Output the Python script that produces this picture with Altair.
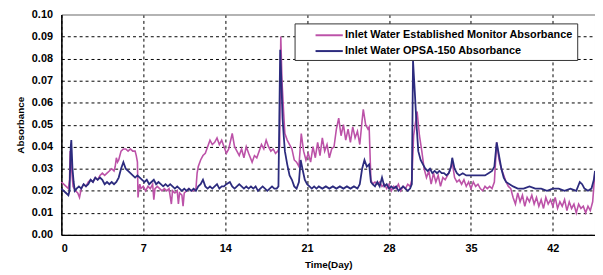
import altair as alt
import pandas as pd

SERIES = ["Inlet Water Established Monitor Absorbance", "Inlet Water OPSA-150 Absorbance"]
COLORS = ["#BC52A8", "#2C2B7E"]

est_day = [0.0, 0.2, 0.4, 0.6, 0.7, 0.75, 0.8, 0.9, 1.0, 1.2, 1.4, 1.55, 1.7, 1.9, 2.1, 2.3, 2.5, 2.7, 2.9, 3.1,
           3.3, 3.5, 3.7, 3.9, 4.1, 4.3, 4.5, 4.6, 4.7, 4.8, 4.9, 5.0, 5.1, 5.3, 5.5, 5.7, 5.9, 6.1, 6.3, 6.4,
           6.5, 6.55, 6.6, 6.7, 6.8, 7.0, 7.2, 7.4, 7.6, 7.8, 7.9, 8.0, 8.2, 8.4, 8.6, 8.8, 9.0, 9.2, 9.4, 9.5,
           9.7, 9.9, 10.0, 10.1, 10.3, 10.4, 10.5, 10.7, 10.9, 11.1, 11.3, 11.5, 11.6, 11.7, 11.9, 12.1, 12.3, 12.5, 12.7, 12.9,
           13.1, 13.3, 13.5, 13.7, 13.9, 14.1, 14.3, 14.6, 14.8, 15.0, 15.2, 15.4, 15.6, 15.8, 16.0, 16.3, 16.5, 16.7, 16.9, 17.1,
           17.3, 17.5, 17.7, 17.9, 18.1, 18.3, 18.5, 18.65, 18.75, 18.85, 19.0, 19.1, 19.3, 19.5, 19.7, 19.9, 20.1, 20.3, 20.5, 20.7,
           20.9, 21.1, 21.3, 21.5, 21.7, 21.9, 22.1, 22.3, 22.5, 22.7, 22.9, 23.1, 23.3, 23.5, 23.7, 23.9, 24.1, 24.3, 24.5, 24.7,
           24.9, 25.1, 25.3, 25.5, 25.7, 25.8, 26.0, 26.2, 26.3, 26.45, 26.6, 26.8, 27.0, 27.2, 27.4, 27.6, 27.8, 28.0, 28.2, 28.4,
           28.6, 28.8, 29.0, 29.2, 29.4, 29.6, 29.8, 29.95, 30.1, 30.4, 30.6, 30.8, 31.0, 31.2, 31.4, 31.6, 31.8, 32.0, 32.2, 32.4,
           32.6, 32.8, 33.0, 33.2, 33.4, 33.6, 33.8, 34.0, 34.2, 34.4, 34.6, 34.8, 35.0, 35.2, 35.4, 35.6, 35.8, 36.0, 36.2, 36.4,
           36.6, 36.8, 37.0, 37.2, 37.4, 37.6, 37.8, 38.0, 38.2, 38.4, 38.6, 38.8, 39.0, 39.2, 39.4, 39.6, 39.8, 40.0, 40.2, 40.4,
           40.6, 40.8, 41.0, 41.2, 41.4, 41.6, 41.8, 42.0, 42.2, 42.4, 42.6, 42.8, 43.0, 43.2, 43.4, 43.6, 43.8, 44.0, 44.2, 44.4,
           44.6, 44.8, 45.0, 45.2, 45.4, 45.6]
est_val = [0.024, 0.023, 0.022, 0.021, 0.025, 0.038, 0.036, 0.028, 0.022, 0.020, 0.019, 0.017, 0.021, 0.023, 0.022, 0.024, 0.025, 0.024, 0.026, 0.025,
           0.027, 0.028, 0.027, 0.028, 0.029, 0.030, 0.029, 0.031, 0.035, 0.033, 0.034, 0.036, 0.038, 0.039, 0.039, 0.038, 0.039, 0.038, 0.038, 0.036,
           0.033, 0.017, 0.020, 0.023, 0.021, 0.022, 0.020, 0.022, 0.021, 0.023, 0.016, 0.021, 0.022, 0.021, 0.020, 0.021, 0.020, 0.021, 0.014, 0.020,
           0.019, 0.020, 0.014, 0.019, 0.018, 0.013, 0.019, 0.020, 0.021, 0.020, 0.020, 0.021, 0.028, 0.031, 0.034, 0.036, 0.037, 0.040, 0.043, 0.041,
           0.042, 0.044, 0.041, 0.043, 0.040, 0.037, 0.039, 0.046, 0.040, 0.038, 0.036, 0.039, 0.035, 0.040, 0.037, 0.033, 0.036, 0.035, 0.038, 0.041,
           0.039, 0.043, 0.040, 0.038, 0.039, 0.037, 0.038, 0.040, 0.090, 0.070, 0.055, 0.046, 0.043, 0.041, 0.039, 0.034, 0.033, 0.031, 0.046, 0.038,
           0.034, 0.037, 0.033, 0.040, 0.035, 0.042, 0.036, 0.044, 0.038, 0.041, 0.035, 0.039, 0.040, 0.048, 0.053, 0.045, 0.050, 0.043, 0.048, 0.042,
           0.049, 0.044, 0.047, 0.041, 0.052, 0.057, 0.050, 0.048, 0.049, 0.025, 0.023, 0.024, 0.023, 0.024, 0.022, 0.023, 0.021, 0.023, 0.020, 0.022,
           0.021, 0.023, 0.020, 0.022, 0.021, 0.023, 0.022, 0.025, 0.045, 0.056, 0.045, 0.038, 0.030, 0.026, 0.029, 0.023, 0.028, 0.024, 0.027, 0.022,
           0.026, 0.025, 0.027, 0.029, 0.033, 0.026, 0.024, 0.025, 0.023, 0.025, 0.022, 0.024, 0.021, 0.024, 0.022, 0.023, 0.021, 0.020, 0.022, 0.021,
           0.022, 0.021, 0.024, 0.042, 0.034, 0.030, 0.027, 0.024, 0.022, 0.021, 0.017, 0.014, 0.019, 0.015, 0.018, 0.013, 0.017, 0.015, 0.018, 0.014,
           0.017, 0.013, 0.016, 0.012, 0.017, 0.014, 0.016, 0.013, 0.017, 0.012, 0.015, 0.013, 0.016, 0.011, 0.015, 0.012, 0.014, 0.010, 0.014, 0.012,
           0.013, 0.010, 0.013, 0.011, 0.015, 0.029]

opsa_day = [0.0, 0.2, 0.4, 0.6, 0.7, 0.8, 0.85, 0.95, 1.05, 1.15, 1.3, 1.5, 1.7, 1.9, 2.1, 2.3, 2.5, 2.7, 2.9, 3.1,
            3.3, 3.5, 3.7, 3.9, 4.1, 4.3, 4.5, 4.7, 4.9, 5.1, 5.3, 5.5, 5.7, 5.9, 6.1, 6.3, 6.5, 6.7, 6.9, 7.1,
            7.3, 7.5, 7.7, 7.9, 8.1, 8.3, 8.5, 8.7, 8.9, 9.1, 9.3, 9.5, 9.7, 9.9, 10.1, 10.3, 10.5, 10.7, 10.9, 11.1,
            11.3, 11.5, 11.7, 11.9, 12.1, 12.3, 12.5, 12.7, 12.9, 13.1, 13.3, 13.5, 13.7, 13.9, 14.1, 14.4, 14.6, 14.8, 15.0, 15.2,
            15.4, 15.6, 15.8, 16.0, 16.2, 16.4, 16.6, 16.8, 17.0, 17.2, 17.4, 17.6, 17.8, 18.0, 18.2, 18.4, 18.55, 18.7, 18.8, 18.9,
            19.0, 19.1, 19.3, 19.5, 19.7, 19.9, 20.1, 20.3, 20.45, 20.6, 20.8, 21.0, 21.2, 21.4, 21.6, 21.8, 22.0, 22.3, 22.6, 22.9,
            23.2, 23.5, 23.8, 24.1, 24.4, 24.7, 25.0, 25.3, 25.5, 25.7, 25.9, 26.1, 26.3, 26.45, 26.6, 26.8, 27.0, 27.2, 27.4, 27.6,
            27.8, 28.0, 28.2, 28.4, 28.6, 28.8, 29.0, 29.2, 29.4, 29.6, 29.8, 29.95, 30.05, 30.2, 30.35, 30.5, 30.7, 30.9, 31.1, 31.3,
            31.5, 31.7, 31.9, 32.1, 32.3, 32.5, 32.7, 32.9, 33.1, 33.3, 33.4, 33.6, 33.8, 34.0, 34.3, 34.6, 35.0, 35.4, 35.8, 36.2,
            36.5, 36.8, 37.0, 37.2, 37.4, 37.6, 37.8, 38.0, 38.3, 38.6, 39.0, 39.5, 40.0, 40.5, 41.0, 41.5, 42.0, 42.5, 43.0, 43.5,
            44.0, 44.3, 44.5, 44.7, 45.0, 45.3, 45.5, 45.6]
opsa_val = [0.021, 0.020, 0.019, 0.018, 0.020, 0.040, 0.043, 0.030, 0.024, 0.020, 0.021, 0.022, 0.021, 0.023, 0.022, 0.023, 0.025, 0.024, 0.026, 0.025,
            0.026, 0.025, 0.023, 0.024, 0.023, 0.024, 0.023, 0.024, 0.026, 0.030, 0.033, 0.030, 0.029, 0.028, 0.027, 0.026, 0.027, 0.026, 0.025, 0.024,
            0.025, 0.023, 0.024, 0.025, 0.023, 0.024, 0.023, 0.022, 0.023, 0.022, 0.023, 0.022, 0.021, 0.022, 0.021, 0.020, 0.021, 0.020, 0.021, 0.020,
            0.021, 0.020, 0.022, 0.023, 0.025, 0.022, 0.021, 0.022, 0.021, 0.022, 0.023, 0.021, 0.022, 0.022, 0.023, 0.024, 0.022, 0.021, 0.022, 0.023,
            0.022, 0.021, 0.022, 0.021, 0.022, 0.021, 0.022, 0.020, 0.021, 0.022, 0.021, 0.020, 0.021, 0.022, 0.021, 0.021, 0.022, 0.084, 0.070, 0.053,
            0.045, 0.038, 0.032, 0.027, 0.025, 0.022, 0.021, 0.024, 0.034, 0.030, 0.025, 0.023, 0.022, 0.021, 0.022, 0.021, 0.022, 0.021, 0.022, 0.021,
            0.022, 0.021, 0.022, 0.021, 0.022, 0.021, 0.022, 0.021, 0.023, 0.030, 0.034, 0.031, 0.032, 0.024, 0.023, 0.022, 0.024, 0.022, 0.026, 0.022,
            0.023, 0.021, 0.022, 0.021, 0.022, 0.020, 0.021, 0.022, 0.021, 0.020, 0.021, 0.023, 0.079, 0.065, 0.050, 0.038, 0.034, 0.032, 0.030, 0.029,
            0.030, 0.028, 0.029, 0.028, 0.029, 0.028, 0.028, 0.027, 0.028, 0.031, 0.035, 0.030, 0.028, 0.027, 0.028, 0.027, 0.027, 0.027, 0.027, 0.027,
            0.028, 0.029, 0.031, 0.042, 0.036, 0.030, 0.026, 0.024, 0.023, 0.022, 0.021, 0.021, 0.022, 0.021, 0.021, 0.020, 0.021, 0.021, 0.020, 0.021,
            0.020, 0.024, 0.023, 0.021, 0.020, 0.021, 0.025, 0.029]

x_ticks = [0, 7, 14, 21, 28, 35, 42]
y_ticks = [0.0, 0.01, 0.02, 0.03, 0.04, 0.05, 0.06, 0.07, 0.08, 0.09, 0.10]

df_est = pd.DataFrame({"day": est_day, "value": est_val, "series": SERIES[0]})
df_opsa = pd.DataFrame({"day": opsa_day, "value": opsa_val, "series": SERIES[1]})

FONT = "Liberation Sans"

x_enc = alt.X("day:Q", scale=alt.Scale(domain=[0, 45.6], nice=False, zero=False),
              axis=alt.Axis(values=x_ticks, title="Time(Day)", format="d"))
y_enc = alt.Y("value:Q", scale=alt.Scale(domain=[0, 0.1], nice=False),
              axis=alt.Axis(values=y_ticks, title="Absorbance", format=".2f",
                            gridDash=alt.condition("datum.value >= 0.0999", alt.value([]), alt.value([3, 3])),
                            gridColor=alt.condition("datum.value >= 0.0999", alt.value("#999999"), alt.value("#000000"))))
color_enc = alt.Color("series:N", scale=alt.Scale(domain=SERIES, range=COLORS),
                      legend=alt.Legend(title=None, orient="none", legendX=236, legendY=9,
                                        fillColor="white", strokeColor="#333333", padding=4,
                                        symbolType="M-2,0H2", symbolSize=190, symbolStrokeWidth=2,
                                        symbolOffset=23, labelOffset=8,
                                        labelExpr="datum.label + '        '",
                                        labelFont=FONT, labelFontSize=11, labelFontWeight="bold",
                                        labelColor="black", labelLimit=400, rowPadding=3))

line_est = alt.Chart(df_est).mark_line(strokeWidth=1.6).encode(x=x_enc, y=y_enc, color=color_enc)
line_opsa = alt.Chart(df_opsa).mark_line(strokeWidth=1.8).encode(x=x_enc, y=y_enc, color=color_enc)

chart = alt.layer(line_est, line_opsa).properties(
    width=540, height=223,
    autosize=alt.AutoSizeParams(type="none"),
    padding={"left": 54, "top": 5, "right": 0, "bottom": 38},
).configure_view(stroke="#999999", strokeWidth=1).configure_axis(
    domainColor="black", domainWidth=1.5, ticks=False,
    gridOpacity=1, gridWidth=1, gridColor="black", gridDash=[3, 3],
    labelFont=FONT, labelFontSize=11, labelFontWeight="bold", labelColor="black",
    titleFont=FONT, titleFontSize=10, titleFontWeight="bold", titleColor="black",
).configure_axisY(labelPadding=9, titlePadding=6).configure_axisX(labelPadding=8, titlePadding=6)

chart.save("out.html", embed_options={"renderer": "svg", "actions": False})
